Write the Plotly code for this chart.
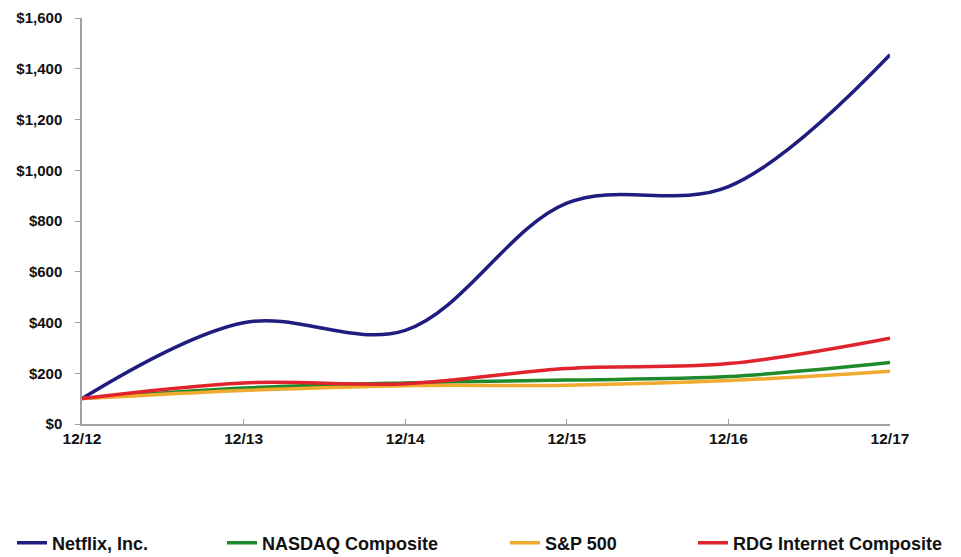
import plotly.graph_objects as go

periods = ["12/12", "12/13", "12/14", "12/15", "12/16", "12/17"]
netflix = [100, 399, 369, 870, 935, 1455]
nasdaq = [100, 142, 162, 173, 187, 242]
sp500 = [100, 132, 151, 153, 171, 208]
rdg = [100, 162, 159, 219, 238, 338]

series_names = ["Netflix, Inc.", "NASDAQ Composite", "S&P 500", "RDG Internet Composite"]
series_values = [netflix, nasdaq, sp500, rdg]
colors = ["#1f1d80", "#1f8a2c", "#f0aa2e", "#e0232c"]
legend_ids = ["legend", "legend2", "legend3", "legend4"]
legend_x = [12, 222, 505, 693]

FONT = "Liberation Sans, Arial, sans-serif"
OFF = 8  # page body margin
W, H = 961 - OFF, 557 - OFF

fig = go.Figure()
for name, vals, col, lid in zip(series_names, series_values, colors, legend_ids):
    fig.add_trace(go.Scatter(
        x=periods, y=vals, name=name, mode="lines",
        line=dict(color=col, width=3.5, shape="spline", smoothing=1),
        legend=lid, showlegend=True,
    ))

layout = dict(
    width=W, height=H, showlegend=True,
    margin=dict(l=82 - OFF, r=71, t=10, b=133, autoexpand=False),
    paper_bgcolor="white", plot_bgcolor="white",
    font=dict(family=FONT, color="#111111"),
    xaxis=dict(
        type="category", range=[0, 5],
        showgrid=False, showline=True, linecolor="#a0a0a0", linewidth=1.5,
        ticks="inside", ticklen=5, tickcolor="#a0a0a0",
        tickfont=dict(family=FONT, size=15.5, color="#111111", weight="bold"),
        ticklabeloverflow="allow",
        zeroline=False,
    ),
    yaxis=dict(
        range=[0, 1600], dtick=200, tickprefix="$", tickformat=",",
        showgrid=False, showline=True, linecolor="#a0a0a0", linewidth=1.5,
        ticks="outside", ticklen=5, tickcolor="#a0a0a0",
        tickfont=dict(family=FONT, size=15, color="#111111", weight="bold"),
        ticklabelstandoff=10, ticklabeloverflow="allow",
        zeroline=False,
    ),
)
for lid, lx in zip(legend_ids, legend_x):
    layout[lid] = dict(
        x=(lx - OFF) / W, y=1 - (543 - OFF) / H, xref="container", yref="container",
        xanchor="left", yanchor="middle",
        orientation="h", bgcolor="rgba(0,0,0,0)", borderwidth=0,
        font=dict(family=FONT, size=18, color="#111111", weight="bold"),
    )
fig.update_layout(**layout)

fig.write_html("out.html")
